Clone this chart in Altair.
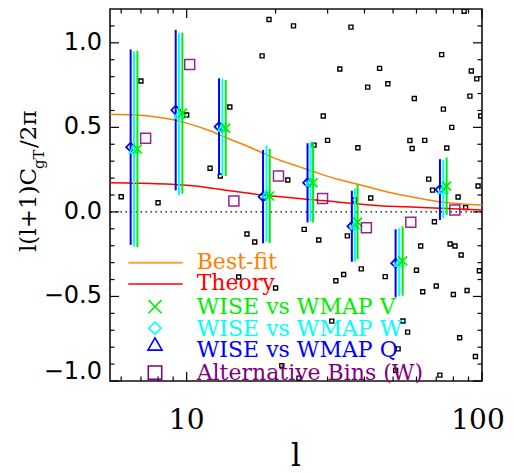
import altair as alt
import pandas as pd

# ---------------- data ----------------
# per-multipole scattered points (black small squares)
noise_l = [7, 6, 8, 10, 12, 13, 14, 18, 19, 23, 22, 16, 36, 33, 45, 41, 48, 59,
           29, 30, 38, 27, 57, 58, 64, 73, 87, 92, 96, 91, 74, 79, 99, 76, 66, 68,
           83, 88, 97, 42, 37, 25, 28, 35, 69, 17, 62, 78, 81, 85, 39, 47, 60, 98,
           70, 63, 89, 80, 54, 56, 84, 52, 95, 51, 72, 15, 20, 32, 34, 31, 21, 24]
noise_v = [0.774, 0.090, 0.054, 0.573, 0.258, 0.212, 0.620, 0.923, 1.138, 1.100,
           0.189, -0.131, 1.093, 0.845, 0.849, 0.738, 0.758, 0.671, 0.567, 0.423,
           0.379, 0.395, 0.422, 0.375, 0.423, 0.930, 1.187, 0.833, 0.787, 0.685,
           0.608, 0.500, 0.567, 0.378, 0.194, 0.129, 0.088, 0.026, 0.153, 0.082,
           0.070, -0.103, -0.166, -0.142, -0.058, -0.178, -0.202, -0.190, -0.202,
           -0.255, -0.337, -0.383, -0.345, -0.348, -0.438, -0.472, -0.465, -0.488,
           -0.645, -0.711, -0.744, -0.810, -0.855, -0.937, -0.965, -0.385, -0.450,
           -0.407, -0.370, -0.646, -0.909, -0.983]

# WISE vs WMAP Q (blue)
q_l = [6.46, 9.18, 12.87, 18.14, 25.66, 36.25, 50.98, 72.05]
q_v = [0.383, 0.602, 0.504, 0.090, 0.172, -0.085, -0.304, 0.132]
q_e = [0.578, 0.475, 0.286, 0.276, 0.234, 0.210, 0.201, 0.180]
# WISE vs WMAP W (cyan)
w_l = [6.63, 9.42, 13.21, 18.63, 26.27, 37.11, 52.44, 73.93]
w_v = [0.372, 0.578, 0.500, 0.108, 0.179, -0.078, -0.297, 0.134]
w_e = [0.578, 0.478, 0.288, 0.284, 0.236, 0.217, 0.200, 0.172]
# WISE vs WMAP V (green)
v_l = [6.81, 9.67, 13.56, 19.11, 26.80, 37.90, 53.85, 75.91]
v_v = [0.372, 0.584, 0.496, 0.094, 0.173, -0.060, -0.290, 0.152]
v_e = [0.580, 0.476, 0.284, 0.279, 0.236, 0.220, 0.205, 0.170]
# Alternative bins (W)
alt_l = [7.26, 10.24, 14.45, 20.46, 28.84, 40.6, 57.4, 80.9]
alt_v = [0.435, 0.872, 0.064, 0.212, 0.080, -0.093, -0.061, 0.011]

# curves
fit_l = [5.5, 6.5, 8, 9, 10, 12, 14, 16, 18, 20, 24, 28, 33, 38, 45, 55, 65, 75, 85, 100]
fit_v = [0.578, 0.574, 0.560, 0.545, 0.525, 0.480, 0.430, 0.390, 0.350, 0.315,
         0.268, 0.228, 0.190, 0.163, 0.130, 0.095, 0.072, 0.055, 0.047, 0.040]
th_l = [5.5, 7, 8.5, 10, 12, 14, 16, 18, 20, 24, 29, 35, 45, 55, 72, 100]
th_v = [0.173, 0.170, 0.165, 0.157, 0.142, 0.125, 0.112, 0.100, 0.092, 0.079,
        0.067, 0.052, 0.037, 0.030, 0.021, 0.011]

# axis ticks and tick labels
x_major = [10, 100]
x_major_labels = ["10", "100"]
x_minor = [6, 7, 8, 9, 20, 30, 40, 50, 60, 70, 80, 90]
y_major = [-1.0, -0.5, 0.0, 0.5, 1.0]
y_major_labels = ["\u22121.0", "\u22120.5", "0.0", "0.5", "1.0"]
y_minor = [-0.9, -0.8, -0.7, -0.6, -0.4, -0.3, -0.2, -0.1, 0.1, 0.2, 0.3, 0.4,
           0.6, 0.7, 0.8, 0.9, 1.1]

legend_labels = ["Best-fit", "Theory", "WISE vs WMAP V", "WISE vs WMAP W",
                 "WISE vs WMAP Q", "Alternative Bins (W)"]

# ---------------- style / layout ----------------
W = 372
H = 372
ORANGE = "#FF8000"
RED = "#FF0000"
GREEN = "#00EE00"
CYAN = "#00FFFF"
BLUE = "#0000FF"
PURPLE = "#800080"
XSHAPE = "M-1,-1L1,1M-1,1L1,-1"

xs = alt.Scale(type="log", domain=[5.5, 100], nice=False)
ys = alt.Scale(domain=[-1.0, 1.2], nice=False, zero=False)


def X(field):
    return alt.X(field, scale=xs, axis=None)


def Y(field):
    return alt.Y(field, scale=ys, axis=None)


layers = []

noise_df = pd.DataFrame({"l": noise_l, "v": noise_v})
layers.append(
    alt.Chart(noise_df).mark_point(shape="square", size=16, filled=False, color="black",
                                   strokeWidth=1.4, opacity=1, clip=True)
    .encode(x=X("l:Q"), y=Y("v:Q"))
)


# ticks (inward, all four sides)
def xticks(vals, length):
    df = pd.DataFrame({"l": vals})
    b = alt.Chart(df).mark_rule(color="black", strokeWidth=1.2).encode(
        x=X("l:Q"), y=alt.value(H), y2=alt.value(H - length))
    t = alt.Chart(df).mark_rule(color="black", strokeWidth=1.2).encode(
        x=X("l:Q"), y=alt.value(0), y2=alt.value(length))
    return [b, t]


def yticks(vals, length):
    df = pd.DataFrame({"v": vals})
    lft = alt.Chart(df).mark_rule(color="black", strokeWidth=1.2).encode(
        y=Y("v:Q"), x=alt.value(0), x2=alt.value(length))
    rgt = alt.Chart(df).mark_rule(color="black", strokeWidth=1.2).encode(
        y=Y("v:Q"), x=alt.value(W), x2=alt.value(W - length))
    return [lft, rgt]


layers += xticks(x_major, 9) + xticks(x_minor, 4.5) + yticks(y_major, 9) + yticks(y_minor, 4.5)

# tick labels (placed through the scales)
xl_df = pd.DataFrame({"l": x_major, "t": x_major_labels})
for sub, shift in [(xl_df[xl_df["l"] < 100], 0), (xl_df[xl_df["l"] >= 100], -4)]:
    layers.append(
        alt.Chart(sub).mark_text(font="DejaVu Serif", fontSize=28, color="black",
                                 align="center", baseline="top", dx=shift)
        .encode(x=X("l:Q"), y=alt.value(H + 26), text="t:N")
    )
yl_df = pd.DataFrame({"v": y_major, "t": y_major_labels})
layers.append(
    alt.Chart(yl_df[yl_df["v"] > -1.0]).mark_text(font="DejaVu Sans", fontSize=24,
                                                  color="black", align="right",
                                                  baseline="middle")
    .encode(y=Y("v:Q"), x=alt.value(-8), text="t:N")
)
layers.append(
    alt.Chart(yl_df[yl_df["v"] <= -1.0]).mark_text(font="DejaVu Sans", fontSize=24,
                                                   color="black", align="right",
                                                   baseline="middle", dy=-9)
    .encode(y=Y("v:Q"), x=alt.value(-8), text="t:N")
)

# zero line
layers.append(
    alt.Chart(pd.DataFrame({"v": [0.0]})).mark_rule(color="black", strokeWidth=1.3,
                                                    strokeDash=[1.5, 3.5])
    .encode(y=Y("v:Q"))
)

# curves
for lv, vv, col in [(fit_l, fit_v, ORANGE), (th_l, th_v, RED)]:
    layers.append(
        alt.Chart(pd.DataFrame({"l": lv, "v": vv})).mark_line(color=col, strokeWidth=1.5,
                                                             interpolate="monotone", clip=True)
        .encode(x=X("l:Q"), y=Y("v:Q"))
    )

# error bars + markers
for lv, vv, ev, col, shape in [(q_l, q_v, q_e, BLUE, "diamond"),
                               (w_l, w_v, w_e, CYAN, "triangle-up"),
                               (v_l, v_v, v_e, GREEN, XSHAPE)]:
    df = pd.DataFrame({"l": lv, "v": vv, "e": ev})
    df["lo"] = df["v"] - df["e"]
    df["hi"] = df["v"] + df["e"]
    layers.append(
        alt.Chart(df).mark_rule(color=col, strokeWidth=2, clip=True)
        .encode(x=X("l:Q"), y=Y("lo:Q"), y2="hi:Q")
    )
    layers.append(
        alt.Chart(df).mark_point(shape=shape, size=81, filled=False, color=col,
                                 strokeWidth=1.7, opacity=1, clip=True)
        .encode(x=X("l:Q"), y=Y("v:Q"))
    )

layers.append(
    alt.Chart(pd.DataFrame({"l": alt_l, "v": alt_v})).mark_point(
        shape="square", size=100, filled=False, color=PURPLE, strokeWidth=1.5, opacity=0.85,
        clip=True)
    .encode(x=X("l:Q"), y=Y("v:Q"))
)

# ---------------- legend (drawn inside the frame) ----------------
one = pd.DataFrame({"a": [0]})
LEG_TEXT_X = 86.7
leg_text_y = [253.4, 274.1, 298.1, 320.1, 341.1, 364.1]
leg_colors = [ORANGE, RED, GREEN, CYAN, BLUE, PURPLE]
for lab, yy, col in zip(legend_labels, leg_text_y, leg_colors):
    layers.append(
        alt.Chart(one).mark_text(text=lab, color=col, font="DejaVu Serif", fontSize=22,
                                 align="left", baseline="middle")
        .encode(x=alt.value(LEG_TEXT_X), y=alt.value(yy))
    )
for yy, col in [(253.7, ORANGE), (275.0, RED)]:
    layers.append(
        alt.Chart(one).mark_rule(color=col, strokeWidth=2, opacity=0.75)
        .encode(x=alt.value(18.3), x2=alt.value(72.7), y=alt.value(yy))
    )
for yy, col, shape, sz in [(297.7, GREEN, XSHAPE, 170), (319.3, CYAN, "diamond", 150),
                           (335.0, BLUE, "triangle-up", 200), (363.7, PURPLE, "square", 180)]:
    layers.append(
        alt.Chart(one).mark_point(shape=shape, size=sz, filled=False, color=col,
                                  strokeWidth=1.6, opacity=1)
        .encode(x=alt.value(45), y=alt.value(yy))
    )

# ---------------- axis titles ----------------
for txt, xx, yy, fs in [("l(l+1)C", -74, 243, 23), ("gT", -66, 160, 15), ("/2\u03c0", -74, 139, 23)]:
    layers.append(
        alt.Chart(one).mark_text(text=txt, color="black", font="DejaVu Serif", fontSize=fs,
                                 align="left", baseline="alphabetic", angle=270)
        .encode(x=alt.value(xx), y=alt.value(yy))
    )
layers.append(
    alt.Chart(one).mark_text(text="l", color="black", font="DejaVu Serif", fontSize=31,
                             align="center", baseline="alphabetic")
    .encode(x=alt.value(186), y=alt.value(457))
)

chart = alt.layer(*layers).properties(
    width=W, height=H,
    autosize=alt.AutoSizeParams(type="none"),
    padding={"left": 102, "top": 1, "right": 24, "bottom": 92},
    background="white",
).configure_view(stroke="#111111", strokeWidth=1.6)

chart.save("out.html", embed_options={"renderer": "svg", "actions": False})
